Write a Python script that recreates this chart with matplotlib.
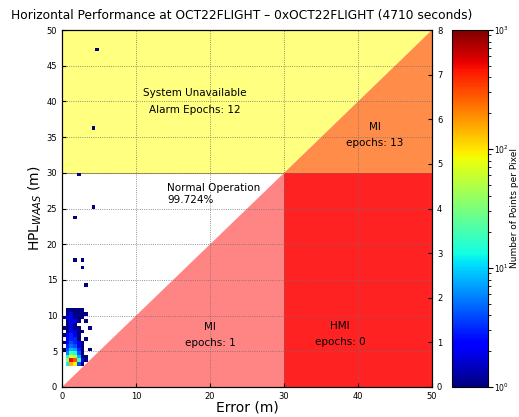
import numpy as np
import matplotlib
import matplotlib.pyplot as plt
import matplotlib.colors as mc
from matplotlib.patches import Polygon

title = "Horizontal Performance at OCT22FLIGHT \u2013 0xOCT22FLIGHT (4710 seconds)"

## data: 2D histogram of (error, HPL) in 0.5 m pixels
cell = 0.5
# dense cluster, rows from HPL 3.0 m upward, columns from error 0.0 m
cluster_y0 = 3.0
cluster_x0 = 0.0
cluster_counts = [
    [0, 12, 150, 90, 4, 1, 0, 0, 0, 0],
    [0, 40, 500, 300, 20, 2, 1, 0, 0, 0],
    [0, 15, 80, 50, 8, 1, 1, 0, 0, 0],
    [0, 6, 20, 14, 4, 1, 0, 0, 0, 0],
    [1, 4, 8, 7, 3, 1, 0, 1, 0, 0],
    [0, 3, 5, 4, 2, 1, 0, 0, 0, 0],
    [1, 2, 4, 3, 2, 1, 0, 0, 0, 0],
    [0, 2, 3, 3, 1, 0, 1, 0, 0, 0],
    [1, 2, 3, 2, 1, 0, 0, 0, 0, 0],
    [0, 1, 2, 2, 1, 1, 0, 0, 0, 0],
    [1, 1, 2, 1, 1, 0, 0, 1, 0, 0],
    [0, 1, 2, 1, 0, 0, 0, 0, 0, 0],
    [0, 1, 2, 2, 1, 0, 1, 0, 0, 0],
    [1, 2, 2, 1, 1, 1, 0, 0, 0, 0],
    [0, 1, 2, 1, 1, 1, 1, 0, 0, 0],
    [0, 1, 1, 1, 1, 1, 0, 0, 0, 0],
]
# isolated single points
single_err = [4.6, 4.2, 2.2, 4.2, 1.6, 1.6, 2.5, 2.5, 3.1]
single_hpl = [47.0, 36.3, 29.7, 25.2, 23.8, 17.9, 17.5, 16.5, 14.4]

alert_limit = 30
axis_max = 50

regions = {
    "unavail": [(0, 30), (30, 30), (50, 50), (0, 50)],
    "mi_top": [(30, 30), (50, 30), (50, 50)],
    "hmi": [(30, 0), (50, 0), (50, 30), (30, 30)],
    "mi_low": [(0, 0), (30, 0), (30, 30)],
}
region_colors = {
    "unavail": "#ffff80",
    "mi_top": "#ff8c48",
    "hmi": "#ff2222",
    "mi_low": "#ff8484",
}

## build grid
edges = np.arange(0, axis_max + cell, cell)
n = len(edges) - 1
grid = np.zeros((n, n))
cc = np.array(cluster_counts, dtype=float)
r0 = int(round(cluster_y0 / cell))
c0 = int(round(cluster_x0 / cell))
grid[r0:r0 + cc.shape[0], c0:c0 + cc.shape[1]] += cc
for e, h in zip(single_err, single_hpl):
    grid[int(h / cell), int(e / cell)] += 1
grid = np.ma.masked_less(grid, 1)

## plot
fig = plt.figure(figsize=(5.19, 4.17), dpi=100)
ax = fig.add_axes([0.1195, 0.072, 0.713, 0.856])
cax = fig.add_axes([0.871, 0.072, 0.069, 0.856])

for k, pts in regions.items():
    ax.add_patch(Polygon(pts, closed=True, facecolor=region_colors[k],
                         edgecolor="none", zorder=1))
ax.plot([0, alert_limit], [alert_limit, alert_limit], color="#b0a030", lw=0.8, zorder=2)

pm = ax.pcolormesh(edges, edges, grid, cmap="jet",
                   norm=mc.LogNorm(vmin=1, vmax=1000), zorder=3)

ax.set_xlim(0, axis_max)
ax.set_ylim(0, axis_max)
ax.set_xticks(range(0, 51, 10))
ax.set_yticks(range(0, 51, 5))
ax.grid(True, linestyle=":", color="#707070", lw=0.6, zorder=4)
ax.set_axisbelow(False)
ax.tick_params(direction="in", labelsize=6, length=3)
ax.set_xlabel("Error (m)", fontsize=10, labelpad=0)
ax.set_ylabel("HPL$_{WAAS}$ (m)", fontsize=10, labelpad=2)

fs = 7.5
ax.text(18, 40, "System Unavailable\nAlarm Epochs: 12", ha="center", va="center",
        fontsize=fs, linespacing=1.8, zorder=5)
ax.text(42.3, 35.3, "MI\nepochs: 13", ha="center", va="center",
        fontsize=fs, linespacing=1.8, zorder=5)
ax.text(14.2, 27.0, "Normal Operation\n99.724%", ha="left", va="center",
        fontsize=fs, linespacing=1.3, zorder=5)
ax.text(37.6, 7.4, "HMI\nepochs: 0", ha="center", va="center",
        fontsize=fs, linespacing=1.8, zorder=5)
ax.text(20, 7.3, "MI\nepochs: 1", ha="center", va="center",
        fontsize=fs, linespacing=1.8, zorder=5)

ax2 = ax.twinx()
ax2.set_ylim(0, 8)
ax2.set_yticks(range(0, 9))
ax2.tick_params(direction="in", labelsize=6, length=3)

cb = fig.colorbar(pm, cax=cax)
cb.ax.tick_params(labelsize=5.5, pad=1)
cb.set_label("Number of Points per Pixel", fontsize=6.5, labelpad=1)

fig.text(0.022, 0.963, title, fontsize=8.8, ha="left", va="center")

plt.savefig("out.png", dpi=100)
